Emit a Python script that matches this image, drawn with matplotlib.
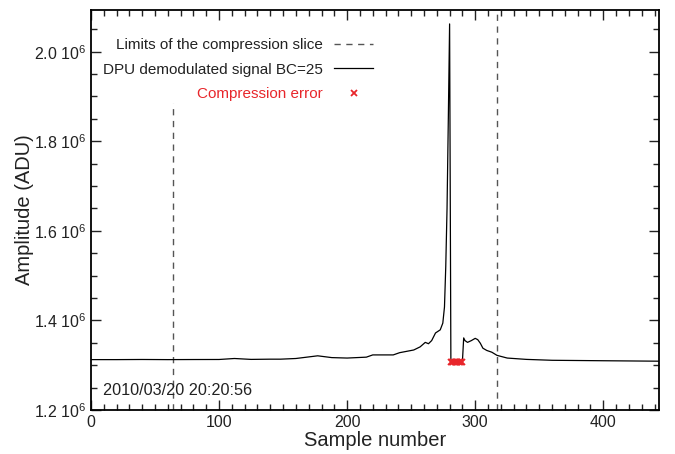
import numpy as np
import matplotlib
matplotlib.use("Agg")
from matplotlib import pyplot as plt
from matplotlib.ticker import MultipleLocator, FuncFormatter

plt.rcParams['font.family'] = ['Liberation Sans', 'DejaVu Sans']
plt.rcParams['mathtext.fontset'] = 'custom'
plt.rcParams['mathtext.rm'] = 'Liberation Sans'
plt.rcParams['mathtext.it'] = 'Liberation Sans'

# demodulated signal (sample, amplitude in 1e6 ADU)
sample = [0, 20, 40, 60, 80, 100, 112, 125, 140, 148, 160, 177, 188, 200, 215,
          220, 236, 241, 252, 257, 261, 263.5, 266, 269, 272.7, 274.7, 276,
          277, 278, 279, 280, 281, 282, 283, 284, 285, 286, 287, 288, 289,
          290, 291, 292, 294, 297, 300, 302, 304, 306, 309, 313, 317, 325,
          340, 360, 400, 443]
amplitude = [1.3125, 1.3125, 1.3128, 1.3125, 1.3127, 1.3128, 1.3150, 1.3130,
             1.3135, 1.3135, 1.3150, 1.3210, 1.3170, 1.3160, 1.3180, 1.3230,
             1.3230, 1.3280, 1.3340, 1.3410, 1.3510, 1.3480, 1.3550, 1.3720,
             1.3790, 1.3940, 1.4300, 1.5200, 1.6500, 1.8500, 2.0620, 1.3080,
             1.3080, 1.3080, 1.3080, 1.3080, 1.3080, 1.3080, 1.3080, 1.3080,
             1.3080, 1.3610, 1.3550, 1.3510, 1.3550, 1.3600, 1.3570, 1.3490,
             1.3380, 1.3330, 1.3290, 1.3220, 1.3160, 1.3130, 1.3110, 1.3100,
             1.3090]

# samples flagged as compression errors
error_sample = [281, 282, 283, 284, 285, 286, 287, 288, 289, 290]
error_amplitude = [1.3075] * len(error_sample)

# limits of the compression slice: (sample, top of dashed line in 1e6 ADU)
slice_x = [64, 317]
slice_top = [1.885, 2.1]

y_min, y_max = 1.2, 2.093
x_max = 443.5

red = "#e8262b"
ink = "#222222"

fig = plt.figure(figsize=(6.75, 4.54), dpi=100)
ax = fig.add_axes([0.1348, 0.0969, 0.8415, 0.881])

for xs, top in zip(slice_x, slice_top):
    ax.plot([xs, xs], [y_min * 1e6, top * 1e6], color="#555555", lw=1.0,
            ls=(0, (4.5, 4)))
ax.plot([], [], color="#555555", lw=1.0, ls=(0, (4.5, 4)),
        label="Limits of the compression slice")

ax.plot(sample, np.array(amplitude) * 1e6, color="black", lw=0.9,
        label="DPU demodulated signal BC=25")
ax.plot(error_sample, np.array(error_amplitude) * 1e6, ls="none", marker="x",
        color=red, ms=5, mew=1.3, label="Compression error")

ax.set_xlim(0, x_max)
ax.set_ylim(y_min * 1e6, y_max * 1e6)

ax.xaxis.set_major_locator(MultipleLocator(100))
ax.xaxis.set_minor_locator(MultipleLocator(10))
ax.yaxis.set_major_locator(MultipleLocator(0.2e6))
ax.yaxis.set_minor_locator(MultipleLocator(0.05e6))
ax.yaxis.set_major_formatter(FuncFormatter(lambda v, p: f"{v / 1e6:.1f} 10$^6$"))

ax.tick_params(which="both", direction="in", top=True, right=True,
               labelsize=11.5, colors=ink)
ax.tick_params(which="major", length=7, width=1.0)
ax.tick_params(which="minor", length=4, width=1.0)
for sp in ax.spines.values():
    sp.set_linewidth(1.3)

ax.set_xlabel("Sample number", fontsize=14.5, color=ink, labelpad=1)
ax.set_ylabel("Amplitude (ADU)", fontsize=14.5, color=ink)
ax.yaxis.set_label_coords(-0.101, 0.5)

leg = ax.legend(loc="upper right", bbox_to_anchor=(0.508, 0.945), frameon=False,
                markerfirst=False, handlelength=2.6, numpoints=1,
                fontsize=11, labelspacing=0.68, handletextpad=0.7,
                borderaxespad=0)
for txt in leg.get_texts():
    txt.set_color(ink)
leg.get_texts()[2].set_color(red)

ax.text(0.021, 0.03, "2010/03/20 20:20:56", transform=ax.transAxes,
        fontsize=11.7, color=ink, ha="left", va="bottom")

fig.savefig("out.png", dpi=100)
